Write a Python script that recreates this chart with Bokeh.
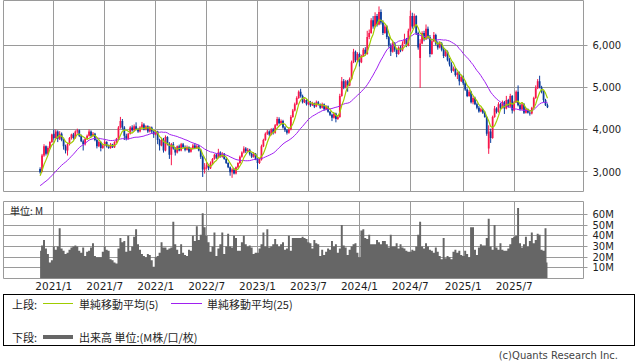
import pandas as pd
from bokeh.plotting import figure
from bokeh.layouts import column
from bokeh.models import Range1d, FixedTicker, ColumnDataSource, Label, GlobalInlineStyleSheet, Div
from bokeh.embed import file_html
from bokeh.resources import INLINE

# ---------------- data (weekly) ----------------
first_week = "2020-11-16"

opens = [
    3060, 2990, 3380, 3600, 3420, 3560, 3700, 3900, 3800, 3950,
    3780, 3900, 3750, 3600, 3500, 3650, 3800, 3880, 3800, 3950,
    3980, 3850, 3720, 3650, 3780, 3850, 3950, 3850, 3900, 3750,
    3600, 3700, 3560, 3620, 3700, 3600, 3560, 3640, 3580, 3700,
    3780, 4050, 4200, 4050, 3850, 3780, 3900, 4050, 3980, 4080,
    4000, 3950, 4050, 4120, 4000, 4080, 3950, 4050, 3950, 3880,
    3950, 3750, 3620, 3750, 3500, 3820, 3650, 3400, 3650, 3550,
    3450, 3600, 3500, 3650, 3580, 3520, 3580, 3470, 3540, 3620,
    3560, 3600, 3500, 3350, 3050, 3100, 3150, 3080, 3200, 3300,
    3400, 3330, 3450, 3350, 3420, 3300, 3200, 3100, 2980, 3050,
    2950, 3100, 3200, 3350, 3450, 3550, 3480, 3520, 3420, 3350,
    3420, 3300, 3200, 3280, 3600, 3750, 3900, 3950, 3880, 4000,
    3920, 4100, 4250, 4150, 4200, 4050, 3980, 3920, 4000, 4300,
    4450, 4600, 4750, 4900, 4800, 4650, 4700, 4600, 4650, 4580,
    4620, 4550, 4650, 4600, 4520, 4600, 4480, 4550, 4420, 4350,
    4280, 4380, 4250, 4300, 4800, 5150, 5000, 5150, 5050, 5200,
    5600, 5850, 5650, 5800, 5600, 5750, 5900, 5800, 6200, 6300,
    6600, 6450, 6700, 6500, 6800, 6550, 6300, 6450, 6200, 6000,
    5850, 6050, 5900, 5800, 5950, 5880, 6050, 6150, 6000, 6350,
    6700, 6450, 6700, 6300, 5700, 6050, 6300, 6150, 6400, 6200,
    5800, 6100, 6250, 6050, 5950, 6050, 5900, 5750, 5850, 5650,
    5550, 5400, 5450, 5300, 5350, 5150, 5250, 5100, 4950, 4800,
    4900, 4650, 4750, 4600, 4520, 4430, 4480, 4400, 4300, 3550,
    3950, 3800, 4300, 4500, 4420, 4600, 4520, 4650, 4500, 4700,
    4550, 4800, 4450, 4650, 4900, 4580, 4480, 4600, 4400, 4480,
    4400, 4380, 4520, 4750, 4980, 5150, 5000, 4900, 4700, 4580,
]

highs = [
    3100, 3420, 3650, 3620, 3600, 3720, 3900, 4000, 4000, 3980,
    3960, 3930, 3780, 3640, 3680, 3820, 3900, 3920, 3980, 4020,
    4000, 3880, 3760, 3800, 3880, 4000, 3980, 3940, 3920, 3780,
    3740, 3720, 3650, 3740, 3720, 3640, 3680, 3660, 3720, 3800,
    4080, 4300, 4250, 4080, 3900, 3920, 4080, 4100, 4120, 4170,
    4040, 4080, 4180, 4150, 4100, 4100, 4080, 4070, 3980, 3980,
    3970, 3780, 3780, 3800, 3860, 3840, 3700, 3680, 3700, 3580,
    3620, 3640, 3680, 3680, 3620, 3620, 3600, 3580, 3660, 3680,
    3650, 3640, 3540, 3380, 3200, 3220, 3180, 3240, 3320, 3420,
    3430, 3540, 3480, 3460, 3440, 3320, 3220, 3120, 3080, 3080,
    3120, 3220, 3380, 3480, 3600, 3580, 3560, 3540, 3450, 3460,
    3440, 3320, 3320, 3640, 3780, 3930, 3990, 3980, 4030, 4040,
    4130, 4300, 4290, 4240, 4230, 4080, 4010, 4040, 4340, 4490,
    4640, 4790, 4930, 4970, 4830, 4740, 4720, 4690, 4680, 4660,
    4640, 4690, 4680, 4620, 4640, 4620, 4580, 4570, 4440, 4380,
    4400, 4400, 4340, 4850, 5250, 5200, 5180, 5180, 5240, 5640,
    5920, 5880, 5840, 5830, 5780, 5940, 5960, 6350, 6380, 6650,
    6700, 6790, 6750, 6930, 6860, 6600, 6500, 6480, 6230, 6050,
    6100, 6080, 5940, 5980, 6000, 6100, 6280, 6180, 6400, 6830,
    6780, 6760, 6720, 6330, 6150, 6340, 6350, 6500, 6450, 6250,
    6150, 6320, 6280, 6100, 6100, 6080, 5950, 5900, 5880, 5700,
    5600, 5500, 5480, 5380, 5380, 5300, 5280, 5140, 4980, 4940,
    4920, 4800, 4780, 4640, 4560, 4520, 4500, 4430, 4320, 4100,
    4020, 4330, 4560, 4530, 4650, 4630, 4690, 4680, 4800, 4730,
    4850, 4820, 4680, 4930, 5050, 4620, 4650, 4630, 4520, 4500,
    4440, 4540, 4780, 5050, 5200, 5280, 5040, 4930, 4730, 4620,
]

lows = [
    2950, 2980, 3350, 3380, 3400, 3530, 3680, 3760, 3780, 3700,
    3750, 3720, 3520, 3430, 3380, 3620, 3760, 3760, 3780, 3900,
    3820, 3700, 3500, 3620, 3750, 3830, 3820, 3820, 3720, 3550,
    3580, 3480, 3540, 3600, 3570, 3540, 3540, 3560, 3560, 3680,
    3760, 4020, 4000, 3750, 3740, 3760, 3880, 3950, 3960, 3980,
    3920, 3930, 4030, 3980, 3980, 3920, 3930, 3900, 3800, 3860,
    3650, 3500, 3600, 3450, 3480, 3620, 3300, 3150, 3520, 3380,
    3430, 3480, 3480, 3560, 3480, 3500, 3440, 3450, 3520, 3530,
    3540, 3480, 3300, 2870, 2950, 3060, 3030, 3060, 3180, 3280,
    3300, 3310, 3330, 3330, 3280, 3180, 3080, 2900, 2850, 2930,
    2930, 3080, 3180, 3330, 3430, 3440, 3460, 3380, 3320, 3330,
    3270, 3060, 3180, 3260, 3580, 3730, 3870, 3840, 3860, 3880,
    3900, 4080, 4120, 4120, 4020, 3940, 3880, 3900, 3980, 4280,
    4430, 4580, 4730, 4760, 4620, 4630, 4570, 4580, 4540, 4560,
    4510, 4530, 4570, 4490, 4500, 4450, 4460, 4400, 4320, 4200,
    4260, 4170, 4230, 4280, 4780, 4960, 4980, 4900, 5030, 5180,
    5580, 5600, 5630, 5500, 5580, 5730, 5760, 5780, 6150, 6280,
    6400, 6430, 6450, 6480, 6500, 6250, 6280, 6150, 5950, 5750,
    5830, 5850, 5720, 5780, 5840, 5860, 6030, 5960, 5980, 6330,
    6400, 6430, 6250, 5900, 4990, 6030, 6100, 6130, 6150, 5720,
    5780, 6080, 6000, 5900, 5930, 5860, 5700, 5730, 5620, 5500,
    5350, 5380, 5260, 5200, 5050, 5130, 5060, 4920, 4770, 4780,
    4620, 4600, 4580, 4480, 4400, 4410, 4370, 4280, 3850, 3420,
    3680, 3780, 4280, 4380, 4400, 4480, 4500, 4370, 4480, 4520,
    4530, 4380, 4430, 4630, 4550, 4450, 4460, 4370, 4380, 4380,
    4330, 4360, 4500, 4730, 4960, 4980, 4860, 4650, 4560, 4510,
]

closes = [
    2980, 3380, 3600, 3420, 3560, 3700, 3880, 3800, 3950, 3780,
    3900, 3750, 3600, 3500, 3650, 3800, 3880, 3800, 3950, 3980,
    3850, 3720, 3650, 3780, 3850, 3950, 3850, 3900, 3750, 3600,
    3700, 3560, 3620, 3700, 3600, 3560, 3640, 3580, 3700, 3780,
    4050, 4200, 4050, 3850, 3780, 3900, 4050, 3980, 4080, 4000,
    3950, 4050, 4120, 4000, 4080, 3950, 4050, 3950, 3880, 3950,
    3750, 3620, 3750, 3500, 3820, 3650, 3400, 3650, 3550, 3450,
    3600, 3500, 3650, 3580, 3520, 3580, 3470, 3540, 3620, 3560,
    3600, 3500, 3350, 3050, 3100, 3150, 3080, 3200, 3300, 3400,
    3330, 3450, 3350, 3420, 3300, 3200, 3100, 2980, 3050, 2950,
    3100, 3200, 3350, 3450, 3550, 3480, 3520, 3420, 3350, 3420,
    3300, 3200, 3280, 3600, 3750, 3900, 3950, 3880, 4000, 3920,
    4100, 4250, 4150, 4200, 4050, 3980, 3920, 4000, 4300, 4450,
    4600, 4750, 4900, 4800, 4650, 4700, 4600, 4650, 4580, 4620,
    4550, 4650, 4600, 4520, 4600, 4480, 4550, 4420, 4350, 4280,
    4380, 4250, 4300, 4800, 5150, 5000, 5150, 5050, 5200, 5600,
    5850, 5650, 5800, 5600, 5750, 5900, 5800, 6200, 6300, 6600,
    6450, 6700, 6500, 6800, 6550, 6300, 6450, 6200, 6000, 5850,
    6050, 5900, 5800, 5950, 5880, 6050, 6150, 6000, 6350, 6700,
    6450, 6700, 6300, 5950, 6050, 6300, 6150, 6400, 6200, 5800,
    6100, 6250, 6050, 5950, 6050, 5900, 5750, 5850, 5650, 5550,
    5400, 5450, 5300, 5350, 5150, 5250, 5100, 4950, 4800, 4900,
    4650, 4750, 4600, 4520, 4430, 4480, 4400, 4300, 3900, 3950,
    3800, 4300, 4500, 4420, 4600, 4520, 4650, 4500, 4700, 4550,
    4800, 4450, 4650, 4900, 4580, 4480, 4600, 4400, 4480, 4400,
    4380, 4520, 4750, 4980, 5150, 5000, 4900, 4700, 4580, 4530,
]

# weekly closes before the first visible week (only feed the moving averages)
prior_closes = [
    2580, 2600, 2570, 2590, 2610, 2600, 2620, 2590, 2610, 2630,
    2600, 2580, 2610, 2620, 2600, 2630, 2610, 2620, 2600, 2610,
    2800, 2850, 2900, 2975,
]

volumes_m = [
    26, 31, 36, 28, 23, 15, 17, 30, 27, 30,
    47, 28, 26, 23, 24, 27, 29, 30, 31, 30,
    26, 24, 29, 21, 25, 26, 29, 33, 21, 20,
    20, 20, 25, 30, 27, 26, 18, 17, 15, 14,
    28, 38, 34, 35, 25, 40, 26, 30, 39, 46,
    32, 27, 23, 21, 20, 23, 22, 17, 11, 20,
    21, 24, 34, 29, 29, 27, 28, 29, 53, 32,
    27, 23, 32, 24, 22, 21, 27, 26, 40, 35,
    49, 36, 41, 61, 48, 40, 34, 25, 30, 43,
    21, 28, 32, 43, 23, 30, 42, 30, 29, 40,
    38, 26, 26, 34, 40, 32, 30, 31, 29, 23,
    24, 24, 28, 32, 43, 30, 46, 29, 30, 32,
    37, 32, 30, 32, 34, 27, 28, 40, 26, 38,
    38, 38, 38, 38, 39, 38, 37, 34, 33, 28,
    36, 33, 32, 21, 27, 22, 25, 28, 27, 35,
    30, 32, 24, 28, 50, 31, 29, 22, 27, 30,
    32, 33, 24, 20, 45, 46, 38, 37, 41, 32,
    32, 32, 36, 34, 32, 35, 35, 32, 29, 41,
    30, 30, 33, 28, 32, 29, 28, 26, 25, 25,
    27, 26, 30, 41, 53, 30, 28, 33, 30, 27,
    26, 24, 29, 25, 21, 18, 38, 19, 21, 20,
    18, 25, 27, 24, 26, 22, 21, 26, 23, 20,
    48, 48, 27, 22, 29, 32, 31, 31, 38, 56,
    30, 27, 50, 29, 27, 33, 27, 26, 26, 28,
    32, 38, 39, 40, 66, 33, 29, 32, 39, 30,
    35, 43, 33, 36, 42, 41, 27, 26, 47, 15,
]

date_tick_labels = ["2021/1", "2021/7", "2022/1", "2022/7", "2023/1",
                    "2023/7", "2024/1", "2024/7", "2025/1", "2025/7"]
price_ticks = [3000, 4000, 5000, 6000]
price_tick_labels = ["3,000", "4,000", "5,000", "6,000"]
volume_ticks = [10, 20, 30, 40, 50, 60]
volume_tick_labels = ["10M", "20M", "30M", "40M", "50M", "60M"]

legend_upper_label = "上段:"
legend_lower_label = "下段:"
ma5_label = "単純移動平均(5)"
ma25_label = "単純移動平均(25)"
volume_label = "出来高 単位:(M株/口/枚)"
volume_unit_label = "単位: M"
credit_text = "(c)Quants Research Inc."

# ---------------- styles ----------------
UP = "#f7164b"
DOWN = "#0b3c9c"
MA5_C = "#9fcc00"
MA25_C = "#a020f0"
VOL_C = "#666666"
GRID_C = "#9a9a9a"
TEXT_C = "#1e1e1e"
JP_FONT = "Noto Sans CJK JP"
LAT_FONT = "DejaVu Sans"

# ---------------- derived ----------------
n = len(closes)
idx = list(range(n))
weeks = pd.date_range(first_week, periods=n, freq="7D")
date_ticks = []
for lab in date_tick_labels:
    yy, mm = map(int, lab.split("/"))
    date_ticks.append(next(i for i, d in enumerate(weeks) if d.year == yy and d.month == mm))

full = prior_closes + closes
off = len(prior_closes)
ma5 = [sum(full[k - 4:k + 1]) / 5 for k in range(off, off + n)]
ma25 = [sum(full[k - 24:k + 1]) / 25 for k in range(off, off + n)]

src = ColumnDataSource(dict(
    x=idx, high=highs, low=lows,
    top=[max(o, c) for o, c in zip(opens, closes)],
    bottom=[min(o, c) for o, c in zip(opens, closes)],
    color=[UP if c >= o else DOWN for o, c in zip(opens, closes)],
))

x_range = Range1d(-18.68, 277.39)


def style_axis(ax, size="10px"):
    ax.axis_line_color = None
    ax.major_tick_line_color = GRID_C
    ax.minor_tick_line_color = None
    ax.major_label_text_font = LAT_FONT
    ax.major_label_text_font_size = size
    ax.major_label_text_color = TEXT_C


# ---------------- price panel ----------------
p1 = figure(width=638, height=196, x_range=x_range, y_range=Range1d(2524, 7071),
            y_axis_location="right", x_axis_location=None,
            toolbar_location=None, output_backend="svg",
            min_border_left=3, min_border_right=55, min_border_top=0, min_border_bottom=5)
p1.outline_line_color = GRID_C
p1.background_fill_color = "white"
p1.border_fill_color = "white"
p1.xgrid.ticker = FixedTicker(ticks=date_ticks)
p1.ygrid.ticker = FixedTicker(ticks=price_ticks)
for g in (p1.xgrid[0], p1.ygrid[0]):
    g.grid_line_color = GRID_C
    g.grid_line_alpha = 1.0
    g.grid_line_width = 1
p1.yaxis.ticker = FixedTicker(ticks=price_ticks)
p1.yaxis.major_label_overrides = dict(zip(price_ticks, price_tick_labels))
style_axis(p1.yaxis[0])
p1.yaxis.major_tick_out = 4
p1.yaxis.major_tick_in = 0
p1.yaxis.major_label_standoff = 5

p1.segment(x0="x", y0="high", x1="x", y1="low", line_color="color", line_width=1, source=src)
p1.vbar(x="x", width=0.9, top="top", bottom="bottom", fill_color="color", line_color=None, source=src)
p1.line(idx, ma25, line_color=MA25_C, line_width=1)
p1.line(idx, ma5, line_color=MA5_C, line_width=1.2)

# ---------------- volume panel ----------------
p2 = figure(width=638, height=98, x_range=x_range, y_range=Range1d(0, 72.07),
            y_axis_location="right", x_axis_location="below",
            toolbar_location=None, output_backend="svg",
            min_border_left=3, min_border_right=55, min_border_top=5, min_border_bottom=13)
p2.outline_line_color = GRID_C
p2.border_fill_color = "white"
p2.xgrid.ticker = FixedTicker(ticks=date_ticks)
p2.ygrid.ticker = FixedTicker(ticks=volume_ticks)
for g in (p2.xgrid[0], p2.ygrid[0]):
    g.grid_line_color = GRID_C
    g.grid_line_alpha = 1.0
p2.yaxis.ticker = FixedTicker(ticks=volume_ticks)
p2.yaxis.major_label_overrides = dict(zip(volume_ticks, volume_tick_labels))
style_axis(p2.yaxis[0])
p2.yaxis.major_tick_out = 4
p2.yaxis.major_tick_in = 0
p2.yaxis.major_label_standoff = 5
p2.xaxis.ticker = FixedTicker(ticks=date_ticks)
p2.xaxis.major_label_overrides = dict(zip(date_ticks, date_tick_labels))
style_axis(p2.xaxis[0], "10.5px")
p2.xaxis.major_tick_out = 0
p2.xaxis.major_tick_in = 0
p2.xaxis.major_tick_line_color = None
p2.xaxis.major_label_standoff = 1

p2.varea_step(x=idx, y1=[0] * n, y2=volumes_m, step_mode="center", fill_color=VOL_C)
p2.add_layout(Label(x=-15.4, y=64.0, text=volume_unit_label, text_baseline="middle",
                    text_font=JP_FONT, text_font_size="10px", text_color=TEXT_C))

# ---------------- legend / credit area (HTML) ----------------
def span(left, top, text, extra=""):
    return (f'<span style="position:absolute;left:{left}px;top:{top}px;line-height:14px;'
            f'white-space:nowrap;{extra}">{text}</span>')


def swatch(left, top, w, h, color):
    return (f'<div style="position:absolute;left:{left}px;top:{top}px;width:{w}px;'
            f'height:0px;border-top:{h}px solid {color};"></div>')


legend_html = (
    f'<div style="position:relative;width:638px;height:68px;font-family:\'{JP_FONT}\';'
    f'font-size:11px;color:{TEXT_C};">'
    '<div style="position:absolute;left:3px;top:0px;width:632px;height:52px;'
    'border:1px solid #000;box-sizing:border-box;"></div>'
    + span(12, 2.5, legend_upper_label)
    + swatch(43, 9, 30, 1, MA5_C)
    + span(79, 2.5, ma5_label)
    + swatch(171, 9, 31, 1, MA25_C)
    + span(207, 2.5, ma25_label)
    + span(12, 35.5, legend_lower_label)
    + swatch(43, 40.5, 30, 4, VOL_C)
    + span(79, 35.5, volume_label)
    + f'<span style="position:absolute;right:20px;top:55px;line-height:14px;white-space:nowrap;'
      f'font-family:\'{LAT_FONT}\';font-size:10px;color:#444444;">{credit_text}</span>'
    + '</div>'
)
p3 = Div(text=legend_html, width=638, height=68, margin=0)

page_css = GlobalInlineStyleSheet(css="html, body { margin: 0 !important; padding: 0 !important; }")
layout = column(p1, p2, p3, spacing=0, stylesheets=[page_css])

open("out.html", "w").write(file_html(layout, INLINE))
